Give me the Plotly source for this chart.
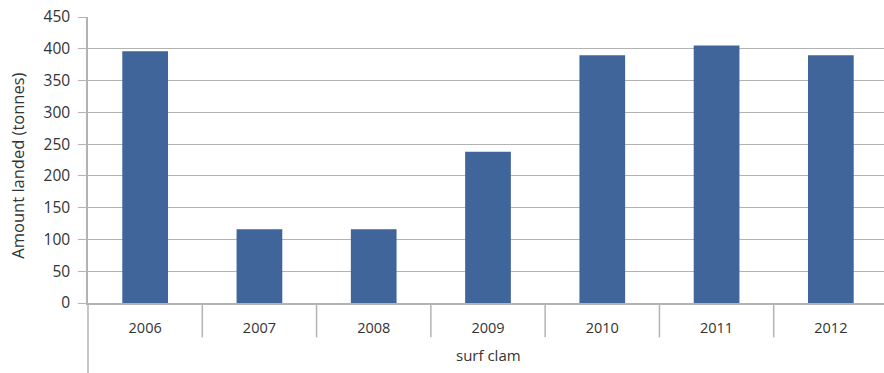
import plotly.graph_objects as go

years = ["2006", "2007", "2008", "2009", "2010", "2011", "2012"]
landed = [396, 116, 116, 238, 390, 405, 390]
group_label = "surf clam"
y_title = "Amount landed (tonnes)"
y_ticks = [0, 50, 100, 150, 200, 250, 300, 350, 400, 450]

W, H = 884, 373
ml, mt = 88, 17
plot_bottom = 302.7
mb = H - plot_bottom
ph = plot_bottom - mt
FONT = "Open Sans"
TXT = "#333333"
GRID = "#b3b3b3"
BAR = "#40659a"

fig = go.Figure(go.Bar(x=years, y=landed, marker=dict(color=BAR, line=dict(width=0)), width=0.4))

# plot area spans 88..888 in the original; the page crops at 884
cat_w = 800 / 7
right_range = 6.5 - 4 / cat_w

fig.update_layout(
    width=W, height=H,
    margin=dict(l=ml, r=0, t=mt, b=mb, pad=0),
    plot_bgcolor="white", paper_bgcolor="white",
    showlegend=False,
    font=dict(family=FONT, size=14, color=TXT),
    xaxis=dict(type="category", range=[-0.5, right_range], showgrid=False,
               showline=True, linecolor=GRID, linewidth=1.5, ticks="",
               tickfont=dict(size=14.5, color=TXT), ticklabelstandoff=11),
    yaxis=dict(range=[0, 450], tickvals=y_ticks, showgrid=True, gridcolor=GRID, gridwidth=1.3,
               showline=True, linecolor=GRID, linewidth=1.5, ticks="outside", ticklen=8,
               tickcolor=GRID, tickwidth=1.3, tickfont=dict(size=15.5, color=TXT),
               ticklabelstandoff=5, zeroline=False),
)

sep_bottom = -(337 - plot_bottom) / ph
shapes = []
for i in range(len(years) - 1):
    shapes.append(dict(type="line", xref="x", yref="paper", x0=i + 0.5, x1=i + 0.5,
                       y0=0, y1=sep_bottom, line=dict(color=GRID, width=1.5)))
# outer left line down to the bottom of the page
shapes.append(dict(type="line", xref="paper", yref="paper", x0=0, x1=0,
                   y0=0, y1=-(H - plot_bottom) / ph, line=dict(color=GRID, width=1.5)))
fig.update_layout(shapes=shapes)

fig.add_annotation(text=group_label, xref="x", yref="paper", x=3,
                   y=-(355 - plot_bottom) / ph, showarrow=False,
                   font=dict(size=15, color=TXT), yanchor="middle")

fig.add_annotation(text=y_title, xref="paper", yref="paper",
                   x=-(ml - 18) / 796, y=(plot_bottom - 165.5) / ph,
                   textangle=-90, showarrow=False, xanchor="center", yanchor="middle",
                   font=dict(size=16.5, color=TXT))

fig.write_html("out.html")
